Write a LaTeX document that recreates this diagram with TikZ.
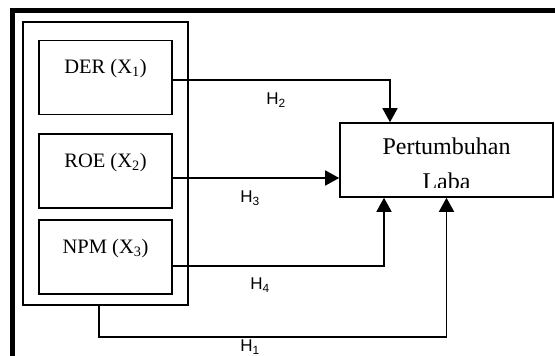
\documentclass[tikz,border=0pt]{standalone}
\usepackage{fontspec}
\setmainfont{Liberation Serif}
\newfontfamily\hsans{Liberation Sans}
\usepackage{tikz}
\usetikzlibrary{arrows.meta,positioning}

\begin{document}
\begin{tikzpicture}[x=1pt,y=-1pt,
  varbox/.style={draw, line width=1.5pt, minimum width=133pt, minimum height=74pt, inner sep=0pt,
    font=\fontsize{20.5}{24}\selectfont, text height=14pt, text depth=22pt},
  link/.style={line width=1.6pt, -{Triangle[length=14pt,width=15pt]}},
  hlabel/.style={font=\hsans\fontsize{17}{20}\selectfont, inner sep=0pt}]
\useasboundingbox (0,0) rectangle (555,356);
\clip (0,0) rectangle (555,356);
\draw[line width=5pt] (12.5,380) -- (12.5,10.5) -- (580,10.5);

% variables
\node[draw, line width=2pt, minimum width=165pt, minimum height=283pt] (grp) at (105.5,163.5) {};
\node[varbox] (der) at (105.5,77.5) {DER (X\textsubscript{1})};
\node[varbox] (roe) at (105.5,171) {ROE (X\textsubscript{2})};
\node[varbox] (npm) at (105.5,257) {NPM (X\textsubscript{3})};

% dependent
\node[draw, line width=1.6pt, minimum width=213pt, minimum height=74pt] (laba) at (446.5,160) {};
\begin{scope}
  \clip (laba.north west) rectangle ([yshift=10pt]laba.south east);
  \node[anchor=north, align=center, inner sep=0pt, font=\fontsize{24}{35}\selectfont] (labatext)
    at ([yshift=-15.6pt]laba.north) {Pertumbuhan\\Laba};
\end{scope}

% hypotheses
\coordinate (h1turn) at (99,337);
\draw[link] ([yshift=-2.5pt]der.east) -| ([xshift=-56.5pt]laba.north);
\draw[link] ([yshift=-7pt]roe.east) -- (laba.west |- 0,178);
\draw[link] ([yshift=-9pt]npm.east) -| ([xshift=-62.5pt]laba.south);
\draw[link] (grp.south -| h1turn) -- (h1turn) -| (laba.south);

\node[hlabel] (h2) at (276,100) {H\textsubscript{2}};
\node[hlabel] (h3) at (250,198) {H\textsubscript{3}};
\node[hlabel] (h4) at (260,285) {H\textsubscript{4}};
\node[hlabel] (h1) at (250,347) {H\textsubscript{1}};
\end{tikzpicture}
\end{document}
